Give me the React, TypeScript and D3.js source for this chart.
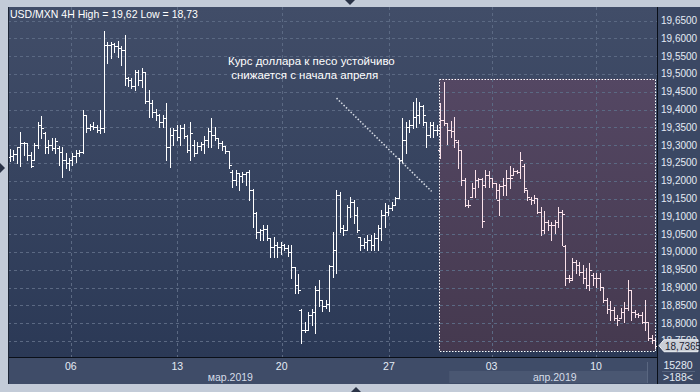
import React, { useEffect, useRef } from 'react';
import * as d3 from 'd3';

// USD/MXN 4H bars
const opens = [
  19.266, 19.269, 19.275, 19.294, 19.306, 19.306, 19.272, 19.258, 19.300, 19.356,
  19.334, 19.294, 19.300, 19.291, 19.291, 19.280, 19.258, 19.250, 19.258, 19.269,
  19.278, 19.280, 19.385, 19.348, 19.353, 19.351, 19.342, 19.348, 19.581, 19.581,
  19.584, 19.578, 19.573, 19.567, 19.488, 19.483, 19.466, 19.506, 19.483, 19.506,
  19.424, 19.418, 19.393, 19.385, 19.365, 19.376, 19.294, 19.328, 19.342, 19.323,
  19.348, 19.325, 19.286, 19.300, 19.278, 19.297, 19.303, 19.314, 19.339, 19.328,
  19.320, 19.306, 19.297, 19.283, 19.225, 19.202, 19.222, 19.213, 19.219, 19.225,
  19.174, 19.110, 19.056, 19.062, 19.065, 19.039, 19.014, 19.019, 19.014, 19.019,
  19.011, 19.000, 18.958, 18.907, 18.837, 18.781, 18.781, 18.823, 18.831, 18.893,
  18.865, 18.848, 18.854, 18.960, 19.005, 19.160, 19.067, 19.062, 19.126, 19.140,
  19.104, 19.042, 19.019, 19.028, 19.033, 19.019, 19.039, 19.067, 19.104, 19.112,
  19.123, 19.132, 19.151, 19.258, 19.314, 19.351, 19.356, 19.379, 19.385, 19.410,
  19.365, 19.328, 19.356, 19.342, 19.286, 19.371, 19.362, 19.342, 19.339, 19.308,
  19.286, 19.202, 19.132, 19.154, 19.180, 19.202, 19.205, 19.188, 19.216, 19.208,
  19.194, 19.146, 19.185, 19.188, 19.208, 19.216, 19.227, 19.225, 19.241, 19.174,
  19.149, 19.146, 19.151, 19.112, 19.062, 19.084, 19.076, 19.076, 19.084, 19.112,
  19.016, 18.927, 18.927, 18.972, 18.963, 18.944, 18.927, 18.907, 18.935, 18.927,
  18.927, 18.901, 18.865, 18.840, 18.837, 18.815, 18.815, 18.831, 18.843, 18.893,
  18.831, 18.826, 18.823, 18.803, 18.803, 18.758, 18.753,
];
const highs = [
  19.289, 19.286, 19.294, 19.336, 19.308, 19.306, 19.280, 19.306, 19.365, 19.382,
  19.336, 19.314, 19.320, 19.320, 19.297, 19.294, 19.278, 19.264, 19.278, 19.286,
  19.286, 19.399, 19.385, 19.359, 19.365, 19.356, 19.399, 19.620, 19.590, 19.590,
  19.587, 19.592, 19.578, 19.609, 19.491, 19.488, 19.511, 19.511, 19.517, 19.506,
  19.455, 19.427, 19.401, 19.387, 19.385, 19.418, 19.348, 19.348, 19.356, 19.356,
  19.359, 19.328, 19.365, 19.314, 19.308, 19.308, 19.325, 19.348, 19.376, 19.351,
  19.320, 19.311, 19.297, 19.280, 19.230, 19.230, 19.222, 19.225, 19.225, 19.230,
  19.177, 19.112, 19.065, 19.076, 19.076, 19.039, 19.042, 19.028, 19.028, 19.022,
  19.019, 19.019, 18.958, 18.938, 18.840, 18.803, 18.831, 18.840, 18.904, 18.921,
  18.865, 18.865, 18.963, 19.056, 19.174, 19.168, 19.076, 19.132, 19.154, 19.146,
  19.126, 19.042, 19.039, 19.047, 19.047, 19.053, 19.076, 19.118, 19.138, 19.132,
  19.140, 19.154, 19.264, 19.376, 19.365, 19.371, 19.421, 19.432, 19.421, 19.413,
  19.365, 19.365, 19.365, 19.356, 19.418, 19.477, 19.362, 19.368, 19.379, 19.314,
  19.286, 19.208, 19.146, 19.194, 19.230, 19.208, 19.208, 19.230, 19.227, 19.208,
  19.194, 19.191, 19.208, 19.230, 19.241, 19.236, 19.230, 19.280, 19.247, 19.174,
  19.154, 19.160, 19.151, 19.126, 19.115, 19.090, 19.084, 19.090, 19.126, 19.118,
  19.019, 18.935, 18.983, 18.977, 18.972, 18.963, 18.955, 18.969, 18.941, 18.941,
  18.941, 18.901, 18.871, 18.862, 18.845, 18.823, 18.843, 18.859, 18.921, 18.893,
  18.837, 18.829, 18.831, 18.865, 18.803, 18.767, 18.758,
];
const lows = [
  19.255, 19.258, 19.250, 19.241, 19.272, 19.258, 19.238, 19.258, 19.291, 19.320,
  19.278, 19.278, 19.286, 19.278, 19.244, 19.211, 19.236, 19.230, 19.244, 19.253,
  19.269, 19.278, 19.336, 19.342, 19.345, 19.336, 19.334, 19.336, 19.531, 19.545,
  19.562, 19.548, 19.525, 19.469, 19.466, 19.460, 19.455, 19.469, 19.463, 19.418,
  19.379, 19.379, 19.371, 19.351, 19.351, 19.258, 19.238, 19.300, 19.314, 19.300,
  19.320, 19.280, 19.258, 19.269, 19.278, 19.286, 19.278, 19.294, 19.294, 19.314,
  19.291, 19.286, 19.278, 19.236, 19.183, 19.188, 19.174, 19.196, 19.188, 19.146,
  19.070, 19.039, 19.033, 19.033, 19.033, 18.986, 18.986, 18.986, 18.994, 19.005,
  18.988, 18.927, 18.885, 18.885, 18.745, 18.775, 18.781, 18.795, 18.773, 18.848,
  18.834, 18.843, 18.834, 18.930, 18.941, 19.056, 19.047, 19.062, 19.098, 19.081,
  19.056, 19.005, 19.011, 19.005, 19.005, 19.005, 19.005, 19.033, 19.070, 19.104,
  19.118, 19.132, 19.151, 19.253, 19.278, 19.336, 19.348, 19.351, 19.362, 19.356,
  19.294, 19.323, 19.323, 19.328, 19.264, 19.356, 19.303, 19.323, 19.294, 19.236,
  19.188, 19.129, 19.126, 19.154, 19.154, 19.183, 19.070, 19.183, 19.183, 19.183,
  19.151, 19.104, 19.160, 19.160, 19.180, 19.216, 19.222, 19.208, 19.168, 19.146,
  19.135, 19.138, 19.110, 19.047, 19.053, 19.062, 19.033, 19.053, 19.070, 19.019,
  18.907, 18.916, 18.921, 18.941, 18.935, 18.913, 18.899, 18.893, 18.907, 18.901,
  18.893, 18.859, 18.829, 18.809, 18.809, 18.795, 18.815, 18.803, 18.837, 18.809,
  18.817, 18.817, 18.800, 18.781, 18.753, 18.745, 18.730,
];
const closes = [
  19.269, 19.275, 19.294, 19.306, 19.306, 19.272, 19.241, 19.300, 19.356, 19.348,
  19.294, 19.300, 19.291, 19.311, 19.280, 19.258, 19.250, 19.258, 19.269, 19.278,
  19.280, 19.385, 19.348, 19.353, 19.351, 19.342, 19.348, 19.581, 19.581, 19.584,
  19.578, 19.573, 19.567, 19.488, 19.483, 19.466, 19.506, 19.483, 19.506, 19.424,
  19.418, 19.393, 19.385, 19.365, 19.376, 19.294, 19.328, 19.342, 19.323, 19.348,
  19.325, 19.286, 19.334, 19.278, 19.297, 19.303, 19.314, 19.339, 19.328, 19.320,
  19.306, 19.297, 19.283, 19.244, 19.202, 19.222, 19.213, 19.219, 19.225, 19.174,
  19.110, 19.056, 19.062, 19.065, 19.039, 19.014, 19.019, 19.014, 19.019, 19.011,
  19.000, 18.958, 18.907, 18.893, 18.781, 18.781, 18.823, 18.831, 18.893, 18.865,
  18.848, 18.854, 18.960, 19.005, 19.160, 19.067, 19.062, 19.126, 19.140, 19.104,
  19.062, 19.019, 19.028, 19.033, 19.019, 19.039, 19.067, 19.104, 19.112, 19.123,
  19.132, 19.151, 19.258, 19.314, 19.351, 19.356, 19.379, 19.385, 19.410, 19.385,
  19.328, 19.356, 19.342, 19.342, 19.371, 19.362, 19.342, 19.339, 19.314, 19.286,
  19.202, 19.132, 19.132, 19.180, 19.202, 19.205, 19.087, 19.216, 19.208, 19.194,
  19.174, 19.185, 19.188, 19.208, 19.208, 19.227, 19.225, 19.258, 19.180, 19.154,
  19.146, 19.151, 19.112, 19.062, 19.084, 19.076, 19.076, 19.084, 19.112, 19.107,
  18.927, 18.921, 18.972, 18.963, 18.944, 18.927, 18.907, 18.949, 18.927, 18.927,
  18.901, 18.865, 18.840, 18.837, 18.815, 18.809, 18.831, 18.843, 18.893, 18.831,
  18.826, 18.823, 18.803, 18.803, 18.758, 18.753, 18.7365,
];

const priceTicks = [
  19.65, 19.6, 19.55, 19.5, 19.45, 19.4, 19.35, 19.3, 19.25, 19.2,
  19.15, 19.1, 19.05, 19.0, 18.95, 18.9, 18.85, 18.8, 18.75,
];
const dayTicks = [17.5, 48.2, 78.3, 109.2, 138.8, 168.9];
const dayLabels = ['06', '13', '20', '27', '03', '10'];
const monthLabels = ['мар.2019', 'апр.2019'];
const monthCenters = [63.5, 157];

const title = 'USD/MXN 4H High = 19,62 Low = 18,73';
const noteLines = ['Курс доллара к песо устойчиво', ' снижается с начала апреля'];
const highlightFrom = 123.7;
const highlightTop = 19.486;
const highlightBottom = 18.722;
const arrowFrom = [94.1, 19.432];
const arrowTo = [121.5, 19.17];
const volumeText = '15280';
const barsText = '>188<';

const FONT = '"Liberation Sans", Arial, sans-serif';

const App: React.FC = () => {
  const ref = useRef<SVGSVGElement | null>(null);

  useEffect(() => {
    if (!ref.current) return;
    const svg = d3.select(ref.current);
    svg.selectAll('*').remove();

    const width = 700;
    const height = 392;
    const plot = { left: 8, top: 7, right: 657, bottom: 357 };

    const n = closes.length;
    const x = d3.scaleLinear().domain([0, n - 1]).range([10, 10 + 3.47 * (n - 1)]);
    const y = d3.scaleLinear().domain([18.7, 19.7]).range([358.7, 2.7]);
    const last = closes[n - 1];
    const ly = y(last);

    const defs = svg.append('defs');
    const bg = defs.append('linearGradient').attr('id', 'bg').attr('x1', 0).attr('y1', 0).attr('x2', 0).attr('y2', 1);
    bg.append('stop').attr('offset', '0%').attr('stop-color', '#414d68');
    bg.append('stop').attr('offset', '100%').attr('stop-color', '#2b3956');
    const pink = defs.append('linearGradient').attr('id', 'pink').attr('x1', 0).attr('y1', 0).attr('x2', 0).attr('y2', 1);
    pink.append('stop').attr('offset', '0%').attr('stop-color', '#544763');
    pink.append('stop').attr('offset', '100%').attr('stop-color', '#45394f');
    defs.append('clipPath').attr('id', 'plotClip')
      .append('rect')
      .attr('x', plot.left).attr('y', plot.top)
      .attr('width', plot.right - plot.left).attr('height', plot.bottom - plot.top);
    // price labels are hidden behind the last-price marker, as in the terminal
    defs.append('clipPath').attr('id', 'axisClip')
      .append('rect')
      .attr('x', plot.right).attr('y', plot.top)
      .attr('width', width - plot.right).attr('height', ly - 6 - plot.top);

    // outer frame
    svg.append('rect').attr('width', width).attr('height', height).attr('fill', '#c3cbd8');
    svg.append('rect')
      .attr('x', plot.left).attr('y', plot.top)
      .attr('width', plot.right - plot.left).attr('height', plot.bottom - plot.top)
      .attr('fill', 'url(#bg)');
    // right axis panel
    svg.append('rect')
      .attr('x', plot.right).attr('y', plot.top)
      .attr('width', width - plot.right).attr('height', 384 - plot.top)
      .attr('fill', '#3b4864');
    // bottom axis panel
    svg.append('rect')
      .attr('x', plot.left).attr('y', plot.bottom)
      .attr('width', plot.right - plot.left).attr('height', 384 - plot.bottom)
      .attr('fill', '#3f4c68');
    svg.append('rect')
      .attr('x', x(highlightFrom) + 10).attr('y', 371)
      .attr('width', 647 - x(highlightFrom) - 10).attr('height', 12)
      .attr('fill', '#4a5772');

    const g = svg.append('g').attr('clip-path', 'url(#plotClip)');

    // highlight box fill
    g.append('rect')
      .attr('x', x(highlightFrom)).attr('y', y(highlightTop))
      .attr('width', 655 - x(highlightFrom)).attr('height', y(highlightBottom) - y(highlightTop))
      .attr('fill', 'url(#pink)');

    // grid
    g.selectAll('.hgrid').data(priceTicks).enter().append('line')
      .attr('x1', plot.left).attr('x2', plot.right)
      .attr('y1', d => Math.round(y(d)) + 0.5).attr('y2', d => Math.round(y(d)) + 0.5)
      .attr('stroke', '#5b6983').attr('stroke-dasharray', '3,3');
    g.selectAll('.vgrid').data(dayTicks).enter().append('line')
      .attr('y1', plot.top).attr('y2', plot.bottom)
      .attr('x1', d => Math.round(x(d)) + 0.5).attr('x2', d => Math.round(x(d)) + 0.5)
      .attr('stroke', '#5b6983').attr('stroke-dasharray', '3,3');

    // OHLC bars
    const bars = g.append('g').attr('shape-rendering', 'crispEdges');
    const idx = d3.range(n);
    const px = (i: number) => Math.round(x(i)) + 0.5;
    const color = (i: number) => (i >= highlightFrom ? '#fbe2ea' : '#ffffff');
    bars.selectAll('.hl').data(idx).enter().append('line')
      .attr('x1', px).attr('x2', px)
      .attr('y1', i => y(highs[i])).attr('y2', i => y(lows[i]) + 1)
      .attr('stroke', color);
    bars.selectAll('.op').data(idx).enter().append('line')
      .attr('x1', i => px(i) - 2.5).attr('x2', i => px(i))
      .attr('y1', i => Math.round(y(opens[i])) + 0.5).attr('y2', i => Math.round(y(opens[i])) + 0.5)
      .attr('stroke', color);
    bars.selectAll('.cl').data(idx).enter().append('line')
      .attr('x1', i => px(i)).attr('x2', i => px(i) + 2.5)
      .attr('y1', i => Math.round(y(closes[i])) + 0.5).attr('y2', i => Math.round(y(closes[i])) + 0.5)
      .attr('stroke', color);

    // highlight box border
    g.append('rect')
      .attr('x', Math.round(x(highlightFrom)) + 0.5).attr('y', Math.round(y(highlightTop)) + 0.5)
      .attr('width', Math.round(655 - x(highlightFrom))).attr('height', Math.round(y(highlightBottom) - y(highlightTop)))
      .attr('fill', 'none').attr('stroke', '#ffffff').attr('stroke-dasharray', '1.5,1.5');

    // dotted arrow line
    g.append('line')
      .attr('x1', x(arrowFrom[0])).attr('y1', y(arrowFrom[1]))
      .attr('x2', x(arrowTo[0])).attr('y2', y(arrowTo[1]))
      .attr('stroke', '#d8dde6').attr('stroke-width', 1.5).attr('stroke-dasharray', '1.5,1.8');

    // note
    const note = svg.append('text').attr('fill', '#ffffff').attr('font-family', FONT).attr('font-size', 11.5);
    noteLines.forEach((t, k) => {
      note.append('tspan').attr('x', 228).attr('y', 65 + k * 13.5).attr('xml:space', 'preserve').text(t);
    });

    // title
    svg.append('text').attr('x', 10).attr('y', 18)
      .attr('fill', '#ffffff').attr('font-family', FONT).attr('font-size', 10.5)
      .text(title);

    // borders
    svg.append('line').attr('x1', plot.right + 0.5).attr('x2', plot.right + 0.5)
      .attr('y1', plot.top).attr('y2', 384).attr('stroke', '#0a0f18');
    svg.append('line').attr('x1', plot.left).attr('x2', plot.right)
      .attr('y1', plot.bottom + 0.5).attr('y2', plot.bottom + 0.5).attr('stroke', '#0a0f18');
    svg.append('line').attr('x1', plot.left + 0.5).attr('x2', plot.left + 0.5)
      .attr('y1', plot.top).attr('y2', 384).attr('stroke', '#1c2536');
    svg.append('line').attr('x1', 647.5).attr('x2', 647.5)
      .attr('y1', 362).attr('y2', 383).attr('stroke', '#5a6781');

    // right price axis
    svg.append('g').attr('clip-path', 'url(#axisClip)')
      .selectAll('.ylab').data(priceTicks).enter().append('text')
      .attr('x', 661).attr('y', d => y(d) + 3.5)
      .attr('fill', '#e4ebf4').attr('font-family', FONT).attr('font-size', 10)
      .text(d => d3.format('.4f')(d).replace('.', ','));

    // last price marker
    svg.append('path')
      .attr('d', `M659,${ly} L664,${ly - 6} L698,${ly - 6} L698,${ly + 6} L664,${ly + 6} Z`)
      .attr('fill', '#c9ced6').attr('stroke', '#eef1f5');
    svg.append('text').attr('x', 665).attr('y', ly + 4)
      .attr('fill', '#1b2233').attr('font-family', FONT).attr('font-size', 10)
      .text(d3.format('.4f')(last).replace('.', ','));

    // bottom axis labels
    svg.selectAll('.xlab').data(dayTicks).enter().append('text')
      .attr('x', d => x(d)).attr('y', 370)
      .attr('text-anchor', 'middle')
      .attr('fill', '#e4ebf4').attr('font-family', FONT).attr('font-size', 10.5)
      .text((d, k) => dayLabels[k]);
    svg.selectAll('.mlab').data(monthCenters).enter().append('text')
      .attr('x', d => x(d)).attr('y', 381)
      .attr('text-anchor', 'middle')
      .attr('fill', '#d5dce8').attr('font-family', FONT).attr('font-size', 10.5)
      .text((d, k) => monthLabels[k]);

    // corner
    svg.append('text').attr('x', 678).attr('y', 369).attr('text-anchor', 'middle')
      .attr('fill', '#e4ebf4').attr('font-family', FONT).attr('font-size', 10.5).text(volumeText);
    svg.append('line').attr('x1', 662).attr('x2', 695).attr('y1', 371.5).attr('y2', 371.5).attr('stroke', '#56637d');
    svg.append('text').attr('x', 678).attr('y', 381).attr('text-anchor', 'middle')
      .attr('fill', '#e4ebf4').attr('font-family', FONT).attr('font-size', 10.5).text(barsText);

    // scroll arrows in the frame
    svg.append('path').attr('d', 'M345,0 L355,0 L350,5 Z').attr('fill', '#2a3347');
    svg.append('path').attr('d', 'M0,163 L0,173 L5,168 Z').attr('fill', '#2a3347');
    svg.append('path').attr('d', 'M351,392 L361,392 L356,387 Z').attr('fill', '#2a3347');
  }, []);

  return (
    <div style={{ position: 'absolute', left: 0, top: 0 }}>
      <svg ref={ref} width={700} height={392} style={{ display: 'block' }} />
    </div>
  );
};

export default App;
